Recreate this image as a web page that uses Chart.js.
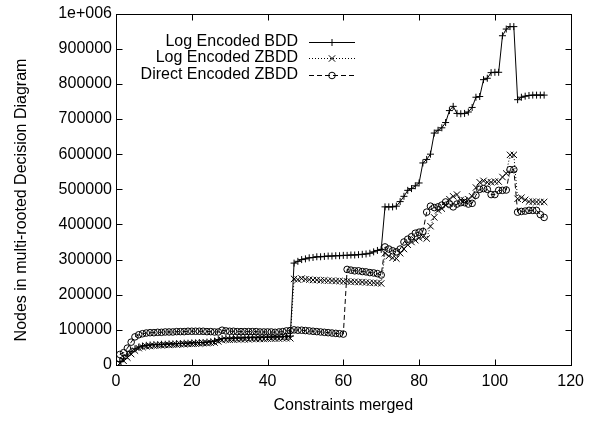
<!DOCTYPE html>
<html>
<head>
<meta charset="utf-8">
<script src="https://cdn.jsdelivr.net/npm/chart.js@4.4.1/dist/chart.umd.min.js"></script>
<style>
html, body { margin: 0; padding: 0; background: #fff; }
</style>
</head>
<body>
<canvas id="nodesChart" width="591" height="421"></canvas>
<script>
// Constraints merged (x axis)
const merged = Array.from({ length: 113 }, (_, i) => i + 1);

// Log Encoded BDD
const logBdd = [
    10000, 18000, 28000, 38000, 46000, 51000, 54000, 56000, 57000, 58000,
    58000, 59000, 59000, 60000, 60000, 61000, 61000, 62000, 62000, 63000,
    63000, 64000, 64000, 65000, 66000, 68000, 72000, 75000, 76000, 76000,
    77000, 77000, 77000, 78000, 78000, 78000, 78000, 79000, 79000, 79000,
    80000, 80000, 80000, 81000, 81000, 82000, 290000, 295000, 300000, 302000,
    305000, 306000, 308000, 308000, 309000, 310000, 310000, 311000, 311000, 312000,
    312000, 313000, 313000, 314000, 315000, 316000, 318000, 322000, 326000, 329000,
    450000, 450000, 450000, 452000, 465000, 480000, 497000, 502000, 510000, 518000,
    575000, 585000, 600000, 660000, 668000, 675000, 690000, 724000, 736000, 716000,
    715000, 716000, 720000, 733000, 762000, 764000, 812000, 816000, 832000, 833000,
    833000, 937000, 956000, 963000, 963000, 755000, 762000, 765000, 767000, 768000,
    768000, 768000, 768000
];

// Log Encoded ZBDD
const logZbdd = [
    5000, 12000, 21000, 31000, 41000, 48000, 51000, 53000, 54000, 55000,
    56000, 56000, 57000, 57000, 58000, 58000, 59000, 59000, 60000, 60000,
    61000, 61000, 62000, 62000, 63000, 64000, 67000, 71000, 72000, 72000,
    72000, 73000, 73000, 73000, 73000, 74000, 74000, 74000, 74000, 75000,
    75000, 75000, 75000, 76000, 76000, 76000, 245000, 243000, 246000, 244000,
    243000, 242000, 242000, 241000, 241000, 240000, 240000, 239000, 239000, 238000,
    238000, 237000, 237000, 236000, 236000, 235000, 234000, 234000, 233000, 232000,
    318000, 310000, 305000, 303000, 318000, 330000, 342000, 350000, 355000, 362000,
    365000, 360000, 395000, 420000, 440000, 445000, 455000, 472000, 480000, 485000,
    470000, 468000, 472000, 480000, 505000, 520000, 524000, 520000, 520000, 522000,
    522000, 535000, 545000, 598000, 598000, 473000, 476000, 470000, 465000, 465000,
    464000, 464000, 464000
];

// Direct Encoded ZBDD
const directZbdd = [
    30000, 35000, 48000, 65000, 80000, 86000, 89000, 91000, 92000, 92000,
    93000, 93000, 94000, 94000, 94000, 95000, 95000, 95000, 96000, 96000,
    96000, 96000, 96000, 95000, 95000, 94000, 94000, 99000, 97000, 96000,
    96000, 95000, 95000, 95000, 95000, 95000, 95000, 94000, 94000, 94000,
    94000, 93000, 94000, 95000, 97000, 98000, 100000, 99000, 99000, 98000,
    97000, 96000, 95000, 94000, 93000, 92000, 91000, 90000, 89000, 88000,
    272000, 270000, 268000, 268000, 266000, 265000, 263000, 262000, 260000, 256000,
    336000, 330000, 325000, 322000, 330000, 350000, 358000, 365000, 375000, 378000,
    380000, 435000, 452000, 448000, 450000, 455000, 464000, 458000, 450000, 458000,
    462000, 462000, 458000, 460000, 483000, 500000, 502000, 500000, 485000, 485000,
    497000, 497000, 498000, 556000, 556000, 435000, 437000, 438000, 440000, 440000,
    440000, 428000, 420000
];

const FONT = '"Liberation Sans", Arial, Helvetica, sans-serif';
const Y_TITLE = 'Nodes in multi-rooted Decision Diagram';

function toPoints(vals) {
    return vals.map((v, i) => ({ x: merged[i], y: v }));
}

// gnuplot style box with inward ticks on all four sides
const frameTicks = {
    id: 'frameTicks',
    afterDatasetsDraw(chart) {
        const { ctx, chartArea, scales } = chart;
        const left = Math.round(chartArea.left) + 0.5;
        const right = Math.round(chartArea.right) + 0.5;
        const top = Math.round(chartArea.top) + 0.5;
        const bottom = Math.round(chartArea.bottom) + 0.5;
        const len = 6;
        ctx.save();
        ctx.strokeStyle = '#000';
        ctx.lineWidth = 1;
        ctx.beginPath();
        scales.x.ticks.forEach(t => {
            const px = Math.round(scales.x.getPixelForValue(t.value)) + 0.5;
            ctx.moveTo(px, bottom); ctx.lineTo(px, bottom - len);
            ctx.moveTo(px, top); ctx.lineTo(px, top + len);
        });
        scales.y.ticks.forEach(t => {
            const py = Math.round(scales.y.getPixelForValue(t.value)) + 0.5;
            ctx.moveTo(left, py); ctx.lineTo(left + len, py);
            ctx.moveTo(right, py); ctx.lineTo(right - len, py);
        });
        ctx.stroke();
        ctx.strokeRect(left, top, right - left, bottom - top);

        // y axis title, a little below the middle like gnuplot puts it
        ctx.translate(22, 200);
        ctx.rotate(-Math.PI / 2);
        ctx.font = '16px ' + FONT;
        ctx.fillStyle = '#000';
        ctx.textAlign = 'center';
        ctx.textBaseline = 'middle';
        ctx.fillText(Y_TITLE, 0, 0);
        ctx.restore();
    }
};

// key in the upper left: text right-aligned, sample line to its right
const keyBox = {
    id: 'keyBox',
    afterDraw(chart) {
        const ctx = chart.ctx;
        ctx.save();
        ctx.font = '16px ' + FONT;
        ctx.textAlign = 'right';
        ctx.textBaseline = 'middle';
        chart.data.datasets.forEach((ds, i) => {
            const yy = 41.5 + i * 16.5;
            ctx.fillStyle = '#000';
            ctx.fillText(ds.label, 298, yy);
            ctx.strokeStyle = '#000';
            ctx.lineWidth = 1;
            ctx.setLineDash(ds.borderDash || []);
            ctx.beginPath();
            ctx.moveTo(309, Math.round(yy) + 0.5);
            ctx.lineTo(355, Math.round(yy) + 0.5);
            ctx.stroke();
            ctx.setLineDash([]);
            ctx.fillStyle = 'rgba(0,0,0,0)';
            Chart.helpers.drawPoint(ctx, {
                pointStyle: ds.pointStyle,
                radius: ds.pointRadius,
                borderWidth: 1,
                rotation: 0
            }, 332, Math.round(yy) + 0.5);
        });
        ctx.restore();
    }
};

const ctx = document.getElementById('nodesChart').getContext('2d');

new Chart(ctx, {
    type: 'line',
    data: {
        datasets: [
            {
                label: 'Log Encoded BDD',
                data: toPoints(logBdd),
                borderColor: '#000',
                borderWidth: 1,
                pointStyle: 'cross',
                pointRadius: 3.5,
                pointBorderColor: '#000',
                pointBorderWidth: 1,
                tension: 0
            },
            {
                label: 'Log Encoded ZBDD',
                data: toPoints(logZbdd),
                borderColor: '#000',
                borderWidth: 1,
                borderDash: [1, 2],
                pointStyle: 'crossRot',
                pointRadius: 4.5,
                pointBorderColor: '#000',
                pointBorderWidth: 1,
                tension: 0
            },
            {
                label: 'Direct Encoded ZBDD',
                data: toPoints(directZbdd),
                borderColor: '#000',
                borderWidth: 1,
                borderDash: [5, 3],
                pointStyle: 'circle',
                pointRadius: 3.3,
                pointBackgroundColor: 'rgba(0,0,0,0)',
                pointBorderColor: '#000',
                pointBorderWidth: 1,
                tension: 0
            }
        ]
    },
    options: {
        responsive: false,
        animation: false,
        devicePixelRatio: 1,
        layout: { padding: { top: 13, right: 15, bottom: 0, left: 0 } },
        plugins: {
            legend: { display: false },
            tooltip: { enabled: false }
        },
        scales: {
            x: {
                type: 'linear',
                min: 0,
                max: 120,
                ticks: {
                    stepSize: 20,
                    color: '#000',
                    font: { family: FONT, size: 16 },
                    padding: 7,
                    maxRotation: 0
                },
                grid: { display: false, drawTicks: false },
                border: { display: false },
                title: {
                    display: true,
                    text: 'Constraints merged',
                    color: '#000',
                    font: { family: FONT, size: 16 },
                    padding: { top: 0, bottom: 6 }
                },
                afterFit(scale) { scale.height = 56; }
            },
            y: {
                type: 'linear',
                min: 0,
                max: 1000000,
                ticks: {
                    stepSize: 100000,
                    color: '#000',
                    font: { family: FONT, size: 16 },
                    padding: 4,
                    callback: v => (v === 1000000 ? '1e+006' : String(v))
                },
                grid: { display: false, drawTicks: false },
                border: { display: false },
                title: { display: false },
                afterFit(scale) { scale.width = 116; }
            }
        }
    },
    plugins: [frameTicks, keyBox]
});
</script>
</body>
</html>
